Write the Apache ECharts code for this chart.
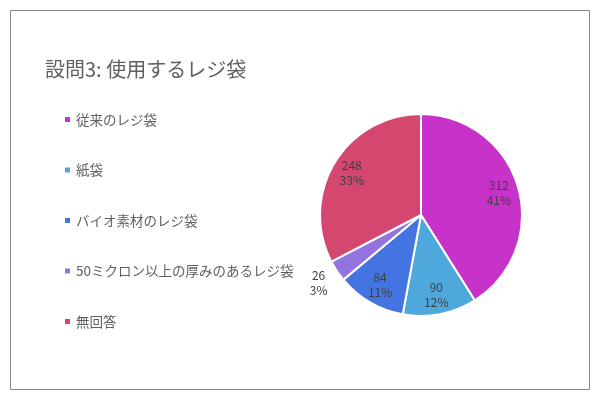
<!DOCTYPE html>
<html>
<head>
<meta charset="utf-8">
<script src="https://cdn.jsdelivr.net/npm/echarts@6/dist/echarts.min.js"></script>
<style>
  html, body { margin: 0; padding: 0; background: #fff; }
  #chart { width: 600px; height: 400px; }
</style>
</head>
<body>
<div id="chart"></div>
<script>
var titleText = '設問3: 使用するレジ袋';
var categories = ['従来のレジ袋', '紙袋', 'バイオ素材のレジ袋', '50ミクロン以上の厚みのあるレジ袋', '無回答'];
var values = [312, 90, 84, 26, 248];
var colors = ['#c732c9', '#4fa8dc', '#4473e2', '#9373e0', '#d4476e'];
var outsideLabelIndex = 3;  // 26件だけ外側に表示

var fontFamily = '"Noto Sans CJK JP", "Noto Sans", sans-serif';

function pieData(showFn) {
    return categories.map(function (name, i) {
        return {
            name: name,
            value: values[i],
            label: { show: showFn(i) }
        };
    });
}

var labelFormatter = function (p) {
    return p.value + '\n' + Math.round(p.percent) + '%';
};

var chartDom = document.getElementById('chart');
var myChart = echarts.init(chartDom);

var option = {
    color: colors,
    animation: false,
    title: {
        text: titleText,
        left: 40,
        top: 54,
        textStyle: {
            fontFamily: fontFamily,
            fontSize: 20,
            fontWeight: 'normal',
            color: '#606060'
        }
    },
    legend: {
        orient: 'vertical',
        left: 58,
        top: 107,
        itemWidth: 7,
        itemHeight: 7,
        itemGap: 35.5,
        icon: 'rect',
        data: categories,
        textStyle: {
            fontFamily: fontFamily,
            fontSize: 13.5,
            color: '#5f5f5f',
            lineHeight: 15
        }
    },
    graphic: [{
        type: 'rect',
        shape: { x: 10.5, y: 10.5, width: 579, height: 379 },
        style: { fill: 'none', stroke: '#8a8a8a', lineWidth: 1 },
        silent: true
    }],
    series: [
        {
            name: '使用するレジ袋',
            type: 'pie',
            center: [421, 215],
            radius: [0, 101],
            startAngle: 90,
            clockwise: true,
            itemStyle: { borderColor: '#fff', borderWidth: 2 },
            label: { show: false },
            labelLine: { show: false },
            emphasis: { disabled: true },
            data: pieData(function () { return false; })
        },
        {
            // ラベル用の透明な円（内側ラベルを半径の約0.77に置く）
            type: 'pie',
            center: [421, 215],
            radius: [0, 156],
            startAngle: 90,
            silent: true,
            z: 3,
            itemStyle: { color: 'rgba(0,0,0,0)', borderWidth: 0 },
            label: {
                position: 'inside',
                formatter: labelFormatter,
                fontFamily: fontFamily,
                fontSize: 12,
                lineHeight: 15,
                color: '#404040'
            },
            labelLine: { show: false },
            emphasis: { disabled: true },
            data: pieData(function (i) { return i !== outsideLabelIndex; })
        },
        {
            // 小さい扇形のラベルは外側
            type: 'pie',
            center: [421, 215],
            radius: [0, 240],
            startAngle: 90,
            silent: true,
            z: 3,
            itemStyle: { color: 'rgba(0,0,0,0)', borderWidth: 0 },
            label: {
                position: 'inside',
                formatter: labelFormatter,
                fontFamily: fontFamily,
                fontSize: 12,
                lineHeight: 15,
                color: '#404040'
            },
            labelLine: { show: false },
            emphasis: { disabled: true },
            data: pieData(function (i) { return i === outsideLabelIndex; })
        }
    ]
};
option && myChart.setOption(option);
</script>
</body>
</html>
